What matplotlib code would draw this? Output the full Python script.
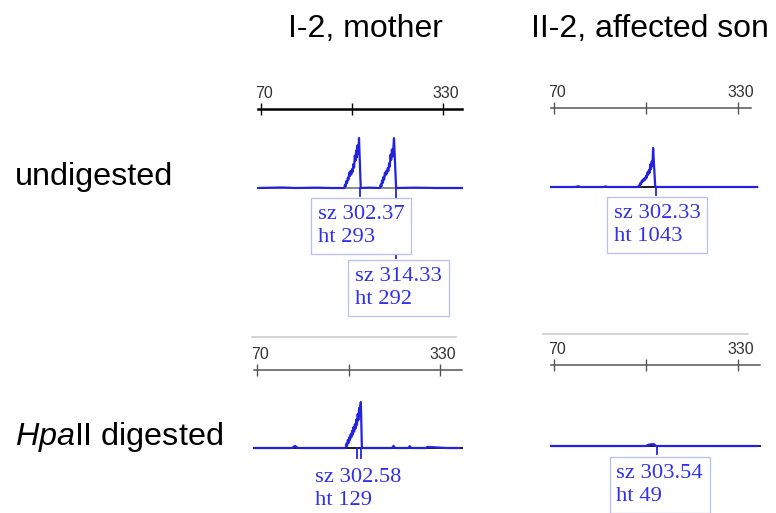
import matplotlib
matplotlib.use('Agg')
import matplotlib.pyplot as plt
from matplotlib.lines import Line2D
from matplotlib.transforms import ScaledTranslation

# electropherogram traces (x in size-ruler units, y in peak height units)
mother_undig_x = [66, 100, 120, 150, 170, 189, 190, 191, 192, 193, 194, 195, 196, 197, 198,
                  199, 200, 201, 202, 203, 204, 205, 206, 207, 208, 209, 210, 212.5, 225,
                  240, 241, 242, 243, 244, 245, 246, 247, 248, 249, 250, 251, 252, 253,
                  254, 255, 256, 257, 258, 259, 260, 263, 290, 320, 357]
mother_undig_y = [0, 3, 0, 2, 0, 0, 20, 10, 40, 30, 60, 50, 90, 70, 100,
                  80, 110, 95, 140, 120, 190, 160, 220, 180, 250, 200, 293, 0, 2,
                  0, 20, 10, 45, 30, 65, 50, 90, 75, 100, 85, 115, 100, 145,
                  125, 195, 165, 225, 185, 230, 292, 0, 2, 0, 0]
son_undig_x = [66, 100, 104, 108, 140, 143, 146, 189, 190, 191, 192, 193, 194, 195, 196,
               197, 198, 199, 200, 201, 202, 203, 204, 205, 206, 207, 208, 209, 210,
               213, 357]
son_undig_y = [0, 0, 20, 0, 0, 15, 0, 0, 40, 20, 110, 80, 170, 140, 200,
               170, 240, 200, 300, 250, 390, 330, 450, 380, 600, 480, 680, 560, 1043,
               0, 0]
mother_dig_x = [66, 120, 124, 128, 170, 196, 197, 198, 199, 200, 201, 202, 203, 204, 205,
                206, 207, 208, 209, 210, 211, 212, 213, 214, 215, 216, 217, 217.5, 219,
                240, 262, 264, 266, 285, 287, 289, 310, 312, 340, 357]
mother_dig_y = [0, 0, 6, 0, 0, 0, 12, 6, 22, 14, 30, 22, 38, 30, 48,
                38, 58, 46, 66, 55, 80, 65, 95, 78, 112, 90, 120, 129, 0,
                0, 0, 6, 0, 0, 5, 0, 0, 3, 0, 0]
son_dig_x = [66, 200, 203, 207, 211, 214, 357]
son_dig_y = [0, 0, 30, 45, 49, 0, 0]

# sizing labels: (marker x, size, height)
mother_undig_calls = [(212, '302.37', '293'), (263, '314.33', '292')]
son_undig_calls = [(214, '302.33', '1043')]
mother_dig_calls = [(217.5, '302.58', '129')]
son_dig_calls = [(216, '303.54', '49')]

col_titles = ['I-2, mother', 'II-2, affected son']

plt.rcParams['font.family'] = ['Liberation Sans', 'DejaVu Sans']
plt.rcParams['mathtext.fontset'] = 'custom'
plt.rcParams['mathtext.it'] = 'Liberation Sans:italic'
plt.rcParams['mathtext.rm'] = 'Liberation Sans'

W, H = 776, 513
fig = plt.figure(figsize=(W / 100, H / 100), dpi=100)
fig.patch.set_facecolor('white')

trace_col = '#2222e0'
text_col = '#3030ee'


def fx(px):
    return px / W


def fy(py):
    return 1 - py / H


def panel(x70, ppu, right, ruler_y, base_y, ht_ref, peak_px, xs, ys,
          ruler_col, ruler_lw, base_col):
    xmin = 66
    xmax = 70 + (right - x70) / ppu
    left = x70 + (xmin - 70) * ppu
    # ruler
    axr = fig.add_axes([fx(left), fy(ruler_y), fx(right - left), 1e-4])
    axr.set_xlim(xmin, xmax)
    for s in ['top', 'left', 'right']:
        axr.spines[s].set_visible(False)
    axr.spines['bottom'].set_color(ruler_col)
    axr.spines['bottom'].set_linewidth(ruler_lw)
    axr.set_yticks([])
    axr.set_xticks([70, 200, 330])
    axr.set_xticklabels(['70', '', '330'])
    axr.tick_params(axis='x', direction='inout', length=9, width=1, color=ruler_col,
                    labelsize=11.5, labelcolor='#333333', top=False,
                    labeltop=True, labelbottom=False, pad=1)
    shift = ScaledTranslation(3 / 100, 0, fig.dpi_scale_trans)
    for t in axr.xaxis.get_major_ticks():
        t.label2.set_transform(t.label2.get_transform() + shift)
    axr.patch.set_visible(False)
    # trace
    upp = ht_ref / peak_px
    ax = fig.add_axes([fx(left), fy(base_y), fx(right - left), 60 / H])
    ax.set_xlim(xmin, xmax)
    ax.set_ylim(0, 60 * upp)
    ax.axis('off')
    ax.plot([xmin, xmax], [0, 0], color=base_col, lw=1.4, clip_on=False, zorder=1)
    ax.plot(xs, ys, color=trace_col, lw=1.6, clip_on=False, zorder=2)
    return ax, upp


def call_label(ax, upp, x, sz, ht, depth, dx, dy, boxed=True, extra=()):
    for mx in (x,) + tuple(extra):
        ax.plot([mx, mx], [0, -depth * upp], color=trace_col, lw=1.3,
                clip_on=False, zorder=2)
    ec = '#b8bef2' if boxed else 'none'
    ax.annotate('sz ' + sz + '\nht ' + ht, xy=(x, 0), xycoords='data',
                xytext=(dx * 0.72, dy * 0.72), textcoords='offset points',
                ha='left', va='top', fontsize=16.2, color=text_col,
                family='Liberation Serif', linespacing=1.3,
                bbox=dict(boxstyle='square,pad=0.3', fc='white', ec=ec, lw=0.9),
                annotation_clip=False, zorder=3)


ax, upp = panel(261, 0.70, 462, 109, 188, 293, 50, mother_undig_x, mother_undig_y,
                'black', 1.8, '#8a8a8a')
call_label(ax, upp, mother_undig_calls[0][0], mother_undig_calls[0][1],
           mother_undig_calls[0][2], 8, -42.5, -17)
call_label(ax, upp, mother_undig_calls[1][0], mother_undig_calls[1][1],
           mother_undig_calls[1][2], 70, -41, -79)

ax, upp = panel(554, 0.708, 751, 108, 187, 1043, 39, son_undig_x, son_undig_y,
                '#555555', 1.1, '#1a1a1a')
call_label(ax, upp, son_undig_calls[0][0], son_undig_calls[0][1],
           son_undig_calls[0][2], 8, -42, -17)

ax, upp = panel(257, 0.704, 462, 370, 448, 129, 46, mother_dig_x, mother_dig_y,
                '#555555', 1.1, '#1a1a1a')
call_label(ax, upp, mother_dig_calls[0][0], mother_dig_calls[0][1],
           mother_dig_calls[0][2], 10, -46, -20, boxed=False, extra=(212,))

ax, upp = panel(554, 0.708, 760, 365, 446, 1043, 39, son_dig_x, son_dig_y,
                '#555555', 1.1, '#1a1a4a')
call_label(ax, upp, son_dig_calls[0][0], son_dig_calls[0][1],
           son_dig_calls[0][2], 8, -41, -18)

# separators between rows
fig.add_artist(Line2D([fx(252), fx(456)], [fy(337), fy(337)], color='#cccccc', lw=1.2))
fig.add_artist(Line2D([fx(543), fx(748)], [fy(334), fy(334)], color='#cccccc', lw=1.2))

# titles and row labels
fig.text(fx(365), fy(37), col_titles[0], ha='center', va='baseline', fontsize=23)
fig.text(fx(650), fy(37), col_titles[1], ha='center', va='baseline', fontsize=23)
fig.text(fx(15), fy(185), 'undigested', ha='left', va='baseline', fontsize=23.3)
fig.text(fx(15), fy(445), r'$\mathit{Hpa}$II digested', ha='left', va='baseline', fontsize=23.3)

fig.savefig('out.png', dpi=100)
